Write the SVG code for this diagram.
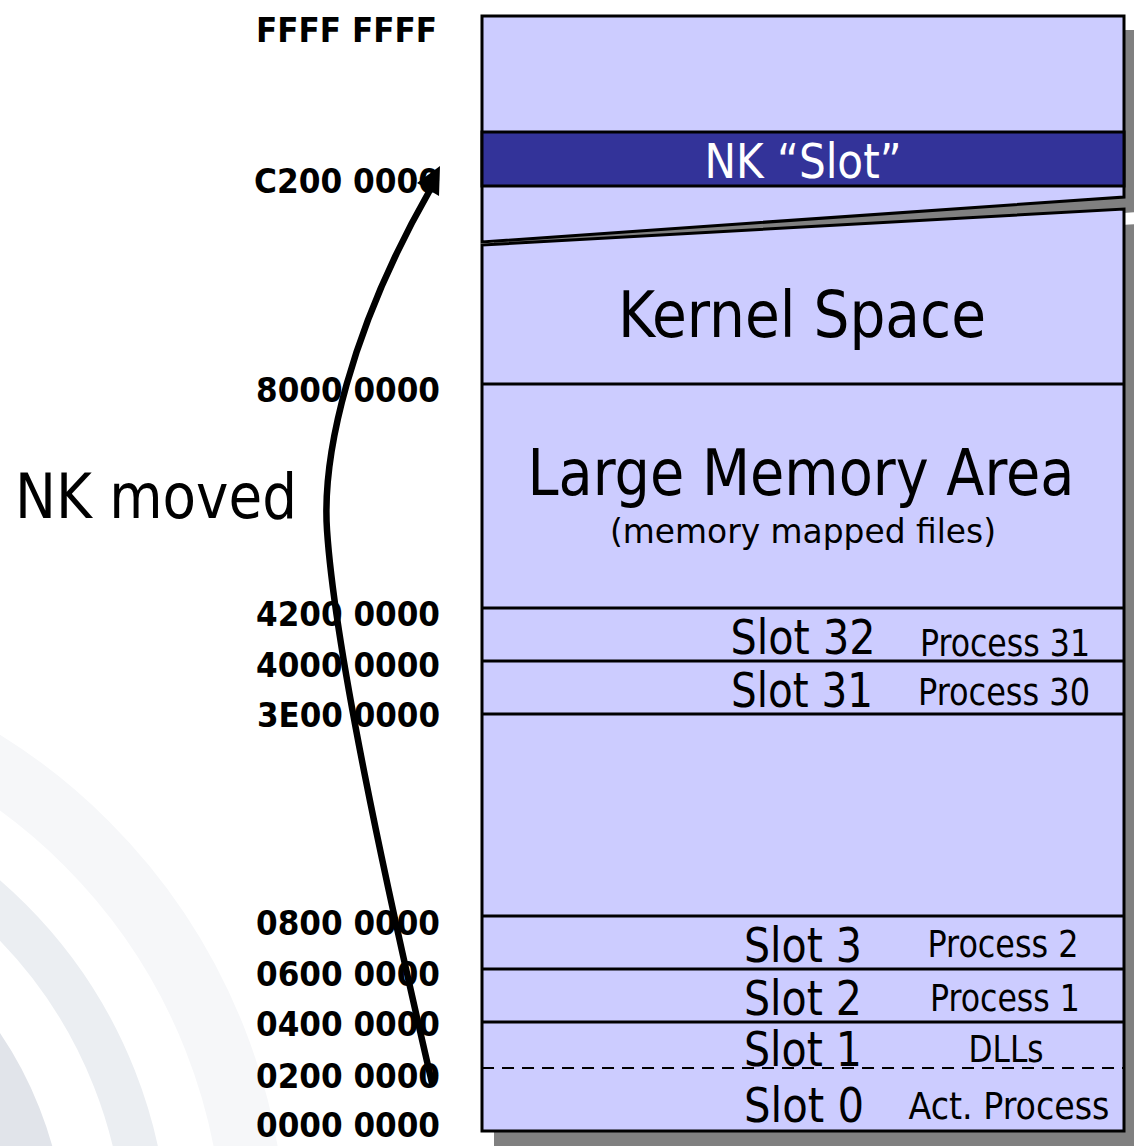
<svg xmlns="http://www.w3.org/2000/svg" width="1134" height="1146" viewBox="0 0 1134 1146">
<style>
.t{font-family:"DejaVu Sans Condensed","DejaVu Sans",sans-serif;fill:#000}
.addr{font-family:"DejaVu Sans Condensed","DejaVu Sans",sans-serif;font-weight:bold;font-size:34px;fill:#000;text-anchor:end}
.box{fill:#CCCCFF;stroke:#000;stroke-width:3;stroke-linejoin:miter}
.sh{fill:#808080}
.ln{stroke:#000;stroke-width:3;fill:none}
.slot{font-size:48px;text-anchor:middle}
.proc{font-size:38px;text-anchor:middle}
</style>
<g id="background" fill="none">
<circle cx="-320" cy="1250" r="575" stroke="#f6f7f9" stroke-width="63"/>
<circle cx="-320" cy="1250" r="467" stroke="#ebeef2" stroke-width="44"/>
<circle cx="-320" cy="1250" r="358" stroke="#e1e4ea" stroke-width="57"/>
</g>
<g id="shadows">
<polygon class="sh" points="494,30 1137,30 1137,212 494,257"/>
<polygon class="sh" points="494,260 1137,224 1137,1146 494,1146"/>
</g>
<g id="upper-region">
<polygon class="box" points="482,16 1124,16 1124,197 482,242"/>
<rect x="482" y="132" width="642" height="54" fill="#333399" stroke="#000" stroke-width="3"/>
<text class="t" x="803" y="178" font-size="48" style="fill:#fff" text-anchor="middle" textLength="197" lengthAdjust="spacingAndGlyphs">NK “Slot”</text>
</g>
<g id="lower-region">
<polygon class="box" points="482,245 1124,209 1124,1131 482,1131" stroke-width="3.5"/>
<line class="ln" x1="482" y1="384" x2="1124" y2="384"/>
<line class="ln" x1="482" y1="608" x2="1124" y2="608"/>
<line class="ln" x1="482" y1="661" x2="1124" y2="661"/>
<line class="ln" x1="482" y1="714" x2="1124" y2="714"/>
<line class="ln" x1="482" y1="916" x2="1124" y2="916"/>
<line class="ln" x1="482" y1="969" x2="1124" y2="969"/>
<line class="ln" x1="482" y1="1022" x2="1124" y2="1022"/>
<line x1="482" y1="1068" x2="1124" y2="1068" stroke="#000" stroke-width="2" stroke-dasharray="12,8"/>
</g>
<g id="kernel-space">
<text class="t" x="802" y="337" font-size="64" text-anchor="middle" textLength="368" lengthAdjust="spacingAndGlyphs">Kernel Space</text>
</g>
<g id="large-memory-area">
<text class="t" x="801" y="495" font-size="64" text-anchor="middle" textLength="547" lengthAdjust="spacingAndGlyphs">Large Memory Area</text>
<text class="t" x="803" y="543" font-size="33" text-anchor="middle" textLength="386" lengthAdjust="spacingAndGlyphs">(memory mapped files)</text>
</g>
<g id="slot32">
<text class="t slot" x="803" y="654" textLength="145" lengthAdjust="spacingAndGlyphs">Slot 32</text>
<text class="t proc" x="1005" y="656" textLength="170" lengthAdjust="spacingAndGlyphs">Process 31</text>
</g>
<g id="slot31">
<text class="t slot" x="802" y="707" textLength="142" lengthAdjust="spacingAndGlyphs">Slot 31</text>
<text class="t proc" x="1004" y="705" textLength="172" lengthAdjust="spacingAndGlyphs">Process 30</text>
</g>
<g id="slot3">
<text class="t slot" x="803" y="962" textLength="118" lengthAdjust="spacingAndGlyphs">Slot 3</text>
<text class="t proc" x="1003" y="957" textLength="151" lengthAdjust="spacingAndGlyphs">Process 2</text>
</g>
<g id="slot2">
<text class="t slot" x="803" y="1015" textLength="118" lengthAdjust="spacingAndGlyphs">Slot 2</text>
<text class="t proc" x="1005" y="1011" textLength="150" lengthAdjust="spacingAndGlyphs">Process 1</text>
</g>
<g id="slot1">
<text class="t slot" x="803" y="1066" textLength="118" lengthAdjust="spacingAndGlyphs">Slot 1</text>
<text class="t proc" x="1006" y="1062" textLength="75" lengthAdjust="spacingAndGlyphs">DLLs</text>
</g>
<g id="slot0">
<text class="t slot" x="804" y="1122" textLength="120" lengthAdjust="spacingAndGlyphs">Slot 0</text>
<text class="t proc" x="1009" y="1119" textLength="201" lengthAdjust="spacingAndGlyphs">Act. Process</text>
</g>
<g id="addresses">
<text class="addr" x="437" y="42" textLength="181" lengthAdjust="spacingAndGlyphs">FFFF FFFF</text>
<text class="addr" x="440" y="193" textLength="186" lengthAdjust="spacingAndGlyphs">C200 0000</text>
<text class="addr" x="440" y="402" textLength="184" lengthAdjust="spacingAndGlyphs">8000 0000</text>
<text class="addr" x="440" y="626" textLength="184" lengthAdjust="spacingAndGlyphs">4200 0000</text>
<text class="addr" x="440" y="677" textLength="184" lengthAdjust="spacingAndGlyphs">4000 0000</text>
<text class="addr" x="440" y="727" textLength="183" lengthAdjust="spacingAndGlyphs">3E00 0000</text>
<text class="addr" x="440" y="935" textLength="184" lengthAdjust="spacingAndGlyphs">0800 0000</text>
<text class="addr" x="440" y="986" textLength="184" lengthAdjust="spacingAndGlyphs">0600 0000</text>
<text class="addr" x="440" y="1036" textLength="184" lengthAdjust="spacingAndGlyphs">0400 0000</text>
<text class="addr" x="440" y="1088" textLength="184" lengthAdjust="spacingAndGlyphs">0200 0000</text>
<text class="addr" x="440" y="1137" textLength="184" lengthAdjust="spacingAndGlyphs">0000 0000</text>
</g>
<g id="nk-moved-label">
<text class="t" x="15" y="518" font-size="62" textLength="282" lengthAdjust="spacingAndGlyphs">NK moved</text>
</g>
<g id="connectors">
<path d="M 432 1083 C 385 880, 335 650, 327 530 C 322 455, 350 330, 430 190" fill="none" stroke="#000" stroke-width="6.5" stroke-linecap="round"/>
<polygon points="440,166 439,196 417,183" fill="#000"/>
</g>
</svg>
